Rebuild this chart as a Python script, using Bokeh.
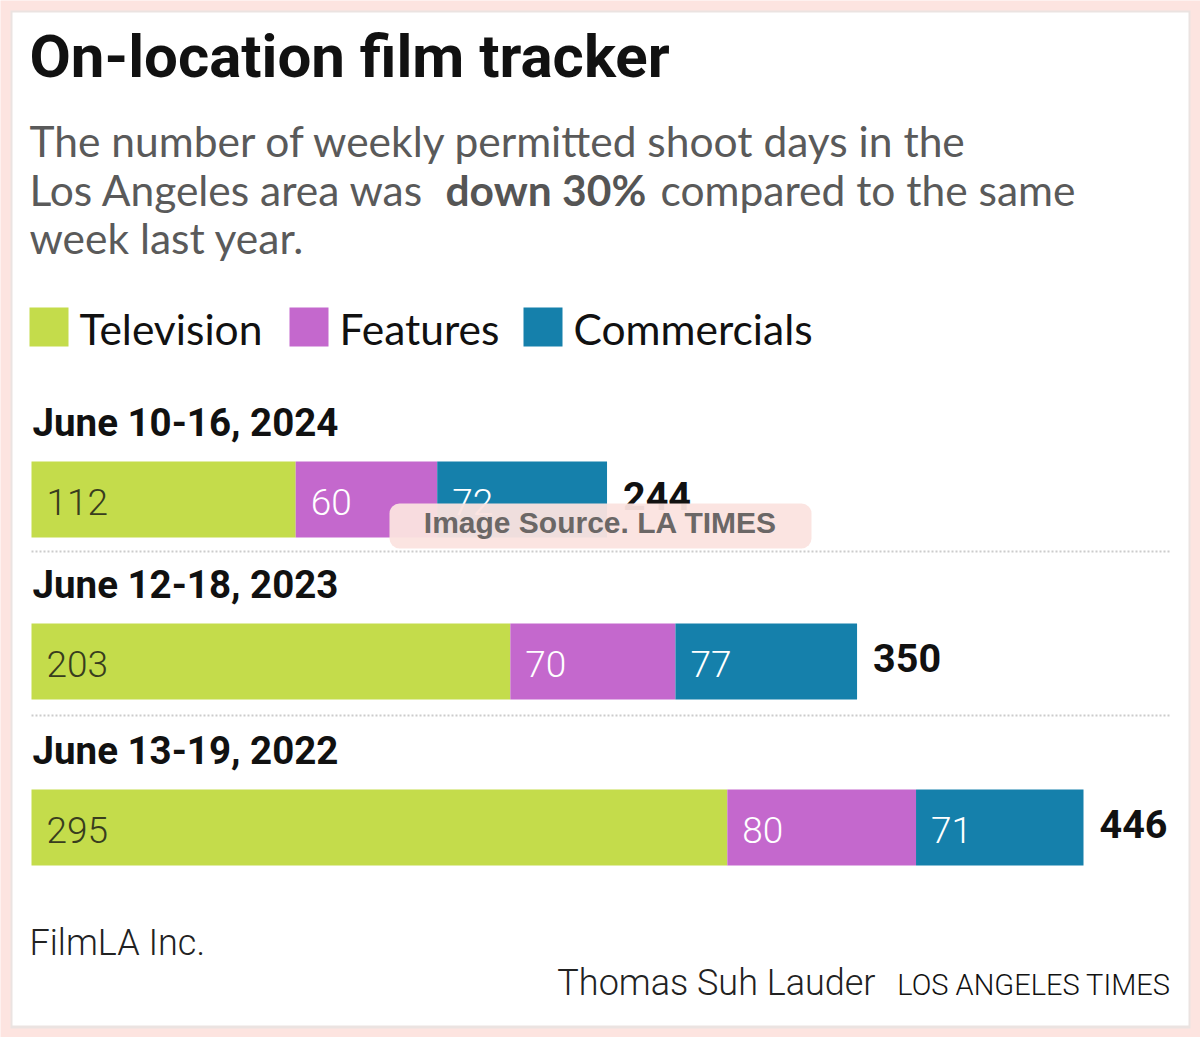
from bokeh.plotting import figure
from bokeh.models import Range1d, ColumnDataSource
from bokeh.core.properties import value
from bokeh.embed import file_html
from bokeh.resources import INLINE

# ---------------- data ----------------
periods = ["June 10-16, 2024", "June 12-18, 2023", "June 13-19, 2022"]
television = [112, 203, 295]
features = [60, 70, 80]
commercials = [72, 77, 71]
series_names = ["Television", "Features", "Commercials"]
totals = [t + f + c for t, f, c in zip(television, features, commercials)]

title = "On-location film tracker"
subtitle_parts = ["The number of weekly permitted shoot days in the",
                  "Los Angeles area was", "down 30%", "compared to the same",
                  "week last year."]
source_text = "FilmLA Inc."
credit_text = "Thomas Suh Lauder"
brand_text = "LOS ANGELES TIMES"
watermark = "Image Source. LA TIMES"

# ---------------- style / layout ----------------
C_TV, C_FE, C_CO = "#c4dc4b", "#c468cd", "#1580ab"
W, H = 1200, 1037
X0 = 31                      # pixel where value 0 lies
PX_PER_UNIT = (1083 - 31) / 446
row_y = [499, 661, 827]      # bar centres (px from top)
bar_h = 76

BOLD = "Roboto"
SUB = "Lato"
LIGHT = "Roboto Light, Roboto"
K = {"Lato": 0.385, "Roboto": 0.345, "light": 0.345, "Liberation Sans": 0.36}


def base(y, size, fam):
    """convert a wanted alphabetic baseline into the y Bokeh needs"""
    return y - K[fam] * size


p = figure(width=W, height=H, output_backend="svg", toolbar_location=None,
           x_range=Range1d(-X0 / PX_PER_UNIT, (W - X0) / PX_PER_UNIT),
           y_range=Range1d(H, 0), min_border=0,
           background_fill_color="#fde4e0", border_fill_color="#fde4e0")
p.extra_x_ranges = {"px": Range1d(0, W)}
p.xaxis.visible = False
p.yaxis.visible = False
p.grid.visible = False
p.outline_line_color = None

# panel with faint shadow
p.quad(left=[10], right=[1190], top=[10], bottom=[1028], x_range_name="px",
       fill_color="#ebe3e1", line_color=None)
p.quad(left=[12], right=[1188], top=[12], bottom=[1025], x_range_name="px",
       fill_color="white", line_color=None)

# title
p.text(x=[29], y=[base(77, 60, "Roboto")], text=[title], x_range_name="px",
       text_font=value(BOLD), text_font_style="bold", text_font_size="60px",
       text_color="#111111", text_baseline="alphabetic")

# subtitle
ss = 42.5
sc = "#5a5a5a"
sub_pos = [(29, 156, False), (29, 205, False), (445, 205, True), (660, 205, False),
           (29, 253, False)]
for txt, (sx, sy, bold) in zip(subtitle_parts, sub_pos):
    p.text(x=[sx], y=[base(sy, ss, "Lato")], text=[txt], x_range_name="px",
           text_font=value(SUB), text_font_style="bold" if bold else "normal",
           text_font_size=f"{ss}px", text_color="#555555" if bold else sc,
           text_baseline="alphabetic")

# legend
leg_x = [29, 289, 523]
leg_tx = [79, 339, 573]
leg_colors = [C_TV, C_FE, C_CO]
p.quad(left=leg_x, right=[x + 39 for x in leg_x], top=[307] * 3, bottom=[346] * 3,
       fill_color=leg_colors, line_color=None, x_range_name="px")
p.text(x=leg_tx, y=[base(344, 42.5, "Lato")] * 3, text=series_names, x_range_name="px",
       text_font=value(SUB), text_font_size="42.5px", text_color="#111111",
       text_baseline="alphabetic")

# period labels
p.text(x=[32] * 3, y=[base(y - 64, 38.5, "Roboto") for y in row_y], text=periods,
       x_range_name="px", text_font=value(BOLD), text_font_style="bold",
       text_font_size="38.5px", text_color="#111111", text_baseline="alphabetic")

# separators
p.segment(x0=[31, 31], x1=[1170, 1170], y0=[551, 715], y1=[551, 715],
          x_range_name="px", line_color="#cccccc", line_width=2, line_dash="2 2")

# stacked bars
src = ColumnDataSource(dict(y=row_y, tv=television, fe=features, co=commercials,
                            period=periods))
p.hbar_stack(["tv", "fe", "co"], y="y", height=bar_h, color=[C_TV, C_FE, C_CO],
             source=src, line_color=None)

# in-bar labels
lefts_tv = [0] * 3
lefts_fe = television
lefts_co = [t + f for t, f in zip(television, features)]
lab_off = 15 / PX_PER_UNIT
ls = 37
lab_y = [base(y + 15, ls, "light") for y in row_y]
for lefts, vals, col in [(lefts_tv, television, "#383d1e"),
                         (lefts_fe, features, "white"),
                         (lefts_co, commercials, "white")]:
    p.text(x=[l + lab_off for l in lefts], y=lab_y, text=[str(v) for v in vals],
           text_font=value(LIGHT), text_font_size=f"{ls}px", text_color=col,
           text_baseline="alphabetic")

# totals
p.text(x=[t + 16 / PX_PER_UNIT for t in totals],
       y=[base(y + 10, 39.5, "Roboto") for y in row_y],
       text=[str(t) for t in totals], text_font=value(BOLD), text_font_style="bold",
       text_font_size="39.5px", text_color="#111111", text_baseline="alphabetic")

# watermark
p.quad(left=[389], right=[811], top=[503], bottom=[548], x_range_name="px",
       fill_color="#fbe3df", fill_alpha=0.95, line_color=None, border_radius=10)
p.text(x=[600], y=[base(533, 30, "Liberation Sans")], text=[watermark],
       x_range_name="px", text_align="center",
       text_font=value("Liberation Sans"), text_font_style="bold", text_font_size="30px",
       text_color="#6b6766", text_baseline="alphabetic")

# footer
p.text(x=[29], y=[base(955, 36, "light")], text=[source_text], x_range_name="px",
       text_font=value(LIGHT), text_font_size="36px", text_color="#222222",
       text_baseline="alphabetic")
p.text(x=[875], y=[base(995, 36, "light")], text=[credit_text], x_range_name="px",
       text_align="right", text_font=value(LIGHT), text_font_size="36px",
       text_color="#222222", text_baseline="alphabetic")
p.text(x=[1170], y=[base(995, 29, "light")], text=[brand_text], x_range_name="px",
       text_align="right", text_font=value(LIGHT), text_font_size="29px",
       text_color="#111111", text_baseline="alphabetic")

open("out.html", "w").write(file_html(p, INLINE))
